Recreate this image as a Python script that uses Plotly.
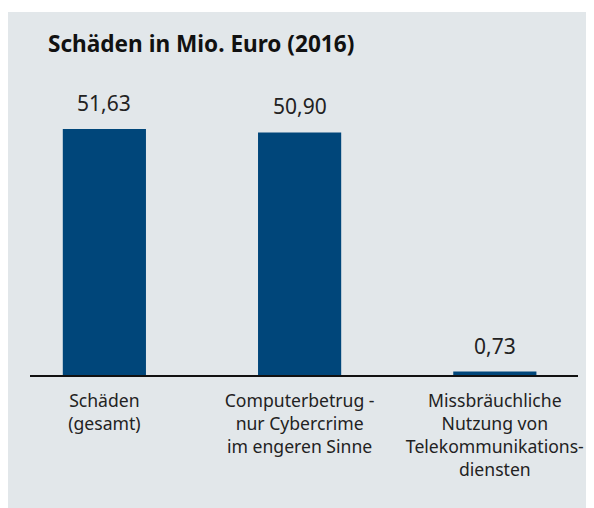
import plotly.graph_objects as go

categories = ["Schäden<br>(gesamt)",
              "Computerbetrug -<br>nur Cybercrime<br>im engeren Sinne",
              "Missbräuchliche<br>Nutzung von<br>Telekommunikations-<br>diensten"]
values = [51.63, 50.90, 0.73]
title_text = "Schäden in Mio. Euro (2016)"

# figure is placed 8px in from the page's top-left corner
W, H = 586, 500
BG = "#e2e7ea"
BAR = "#00467a"
FONT = "Noto Sans"

# pixel layout (figure coordinates)
plot_l, plot_r = 22, 575
plot_b = 367
ymax = 60
plot_t = round(plot_b - 246 * ymax / 51.63)
pw = plot_r - plot_l
ph = plot_b - plot_t

fig = go.Figure()
fig.add_trace(go.Bar(
    x=[0, 1, 2], y=values, width=0.426,
    marker=dict(color=BAR, line=dict(width=0)),
    hoverinfo="skip",
))

for i, v in enumerate(values):
    fig.add_annotation(x=i, y=v, xref="x", yref="y",
                       text=f"{v:.2f}".replace(".", ","),
                       showarrow=False, yanchor="bottom", yshift=10,
                       font=dict(family=FONT, size=21, color="#222222"))

fig.add_annotation(xref="paper", yref="paper",
                   x=(38 - plot_l) / pw,
                   y=(plot_b - 35) / ph,
                   xanchor="left", yanchor="middle",
                   text=f"<b>{title_text}</b>", showarrow=False,
                   font=dict(family=FONT, size=22.6, color="#111111"))

# white strip above the grey panel
fig.add_shape(type="rect", xref="paper", yref="paper", layer="below",
              x0=(-2 - plot_l) / pw, x1=(W + 2 - plot_l) / pw,
              y0=(plot_b - 4) / ph, y1=(plot_b + 2) / ph,
              fillcolor="white", line=dict(width=0))

fig.update_layout(
    width=W, height=H,
    margin=dict(l=plot_l, r=W - plot_r, t=plot_t, b=H - plot_b, pad=0),
    paper_bgcolor=BG, plot_bgcolor=BG,
    showlegend=False,
    font=dict(family=FONT, color="#222222"),
    xaxis=dict(tickmode="array", tickvals=[0, 1, 2], ticktext=categories,
               range=[-0.381, 2.426], showgrid=False, zeroline=False,
               showline=True, linecolor="#111111", linewidth=2,
               ticks="", ticklabelstandoff=9,
               tickfont=dict(family=FONT, size=17.6, color="#222222"),
               fixedrange=True),
    yaxis=dict(range=[0, ymax], visible=False, fixedrange=True),
)

fig.write_html("out.html", config={"displayModeBar": False})
